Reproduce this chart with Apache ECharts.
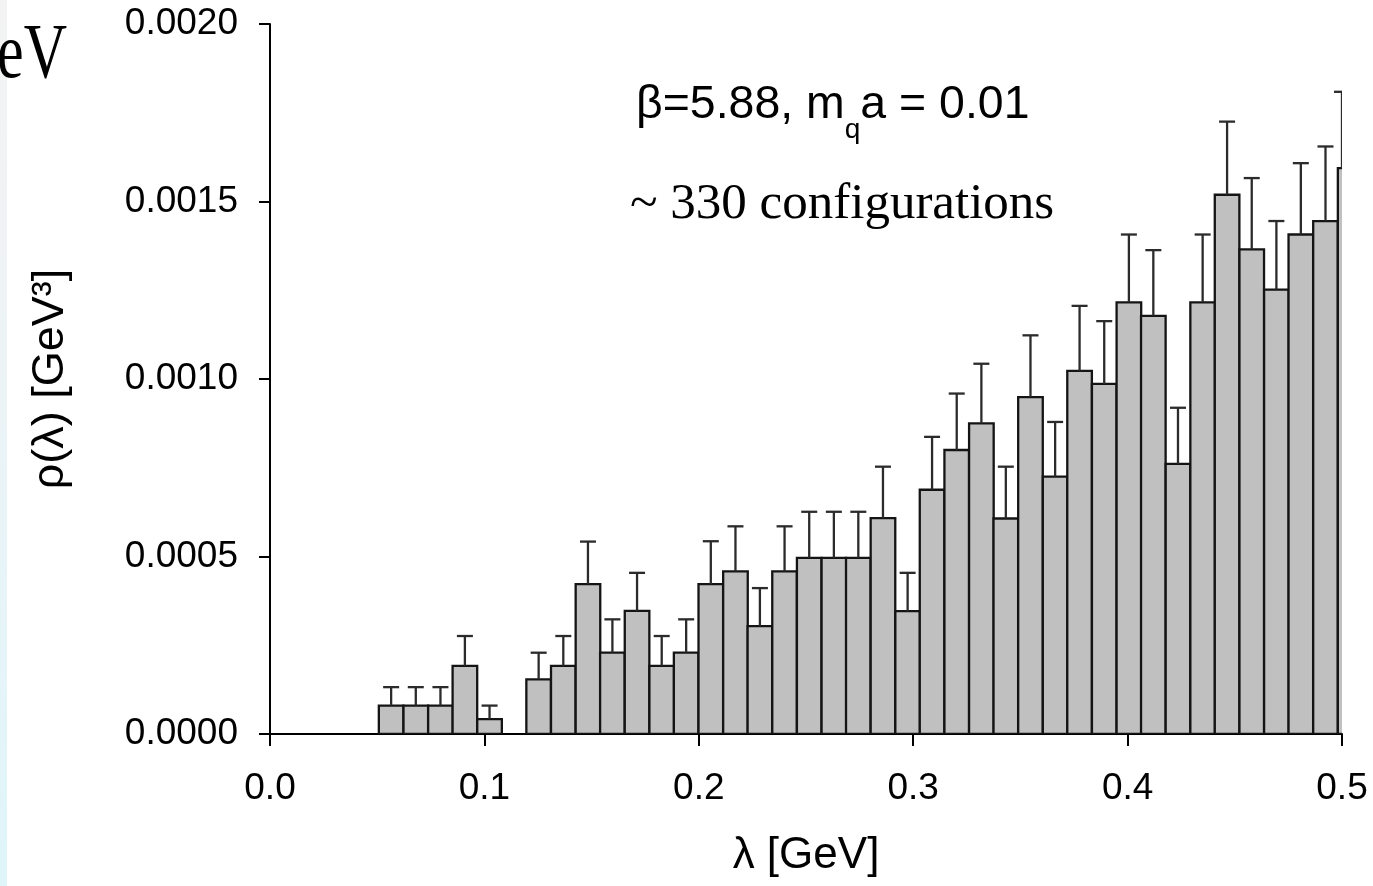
<!DOCTYPE html>
<html>
<head>
<meta charset="utf-8">
<script src="https://cdn.jsdelivr.net/npm/echarts@6/dist/echarts.min.js"></script>
<style>
  html, body { margin: 0; padding: 0; background: #ffffff; }
  #chart { width: 1373px; height: 886px; }
</style>
</head>
<body>
<div id="chart"></div>
<script>
// ---- data ----
// histogram bin centres, lambda [GeV]
const lambdaCenters = [0.0565,0.0680,0.0795,0.0909,0.1024,0.1139,0.1253,0.1368,0.1483,0.1597,
  0.1712,0.1827,0.1941,0.2056,0.2171,0.2285,0.2400,0.2515,0.2630,0.2744,
  0.2859,0.2974,0.3088,0.3203,0.3318,0.3432,0.3547,0.3662,0.3776,0.3891,
  0.4006,0.4120,0.4235,0.4350,0.4464,0.4579,0.4694,0.4808,0.4923,0.5038];
// histogram bin width [GeV]
const binWidth = 0.01147;
// rho(lambda) [GeV^3]
const rhoValues = [0.000080,0.000080,0.000080,0.000192,0.000042,null,0.000154,0.000192,0.000422,0.000229,
  0.000347,0.000192,0.000229,0.000422,0.000458,0.000304,0.000458,0.000496,0.000496,0.000496,
  0.000608,0.000346,0.000688,0.000800,0.000875,0.000607,0.000949,0.000725,0.001023,0.000986,
  0.001216,0.001178,0.000761,0.001216,0.001519,0.001365,0.001252,0.001407,0.001445,0.001594];
// upper error bars
const rhoErrors = [0.000052,0.000052,0.000052,0.000084,0.000038,null,0.000075,0.000084,0.000120,0.000094,
  0.000107,0.000084,0.000094,0.000121,0.000127,0.000107,0.000127,0.000130,0.000130,0.000130,
  0.000145,0.000108,0.000149,0.000159,0.000168,0.000146,0.000174,0.000154,0.000183,0.000177,
  0.000191,0.000185,0.000158,0.000191,0.000206,0.000201,0.000193,0.000201,0.000210,0.000215];
// tick labels
const xTickLabels = ['0.0','0.1','0.2','0.3','0.4','0.5'];
const yTickLabels = ['0.0000','0.0005','0.0010','0.0015','0.0020'];
const xAxisTitle = 'λ [GeV]';
const yAxisTitle = 'ρ(λ) [GeV³]';

// ---- build ----
const X_MIN = 0, X_MAX = 0.5, X_STEP = 0.1;
const Y_MIN = 0, Y_MAX = 0.002, Y_STEP = 0.0005;

const barData = [];
const errData = [];
for (let i = 0; i < lambdaCenters.length; i++) {
  if (rhoValues[i] == null) continue;
  barData.push([lambdaCenters[i], rhoValues[i]]);
  errData.push([lambdaCenters[i], rhoValues[i], rhoValues[i] + rhoErrors[i]]);
}

const SANS = '"Liberation Sans", Arial, sans-serif';
const SERIF = '"Liberation Serif", "Times New Roman", serif';

const chart = echarts.init(document.getElementById('chart'), null, { renderer: 'canvas' });

const option = {
  backgroundColor: '#ffffff',
  animation: false,
  grid: { left: 270, right: 31, top: 24, bottom: 152, containLabel: false },
  xAxis: {
    type: 'value',
    min: X_MIN, max: X_MAX, interval: X_STEP,
    name: xAxisTitle,
    nameLocation: 'middle',
    nameGap: 100,
    nameTextStyle: { fontFamily: SANS, fontSize: 44, color: '#000' },
    axisLine: { onZero: false, lineStyle: { color: '#000', width: 2 } },
    axisTick: { show: true, inside: false, length: 12, lineStyle: { color: '#000', width: 2 } },
    axisLabel: {
      margin: 36,
      fontFamily: SANS, fontSize: 37, color: '#000',
      formatter: (v) => xTickLabels[Math.round((v - X_MIN) / X_STEP)]
    },
    splitLine: { show: false }
  },
  yAxis: {
    type: 'value',
    min: Y_MIN, max: Y_MAX, interval: Y_STEP,
    name: yAxisTitle,
    nameLocation: 'middle',
    nameGap: 197,
    nameTextStyle: { fontFamily: SANS, fontSize: 45, color: '#000' },
    axisLine: { show: true, lineStyle: { color: '#000', width: 2 } },
    axisTick: { show: true, inside: false, length: 11, lineStyle: { color: '#000', width: 2 } },
    axisLabel: {
      margin: 32,
      fontFamily: SANS, fontSize: 37, color: '#000',
      formatter: (v) => yTickLabels[Math.round((v - Y_MIN) / Y_STEP)]
    },
    splitLine: { show: false }
  },
  series: [
    {
      type: 'custom',
      name: 'rho',
      clip: true,
      data: barData,
      renderItem: function (params, api) {
        const c = api.value(0), v = api.value(1);
        const p0 = api.coord([c - binWidth / 2, v]);
        const p1 = api.coord([c + binWidth / 2, 0]);
        return {
          type: 'rect',
          shape: { x: p0[0], y: p0[1], width: p1[0] - p0[0], height: p1[1] - p0[1] },
          style: { fill: '#c0c0c0', stroke: '#141414', lineWidth: 2.3 }
        };
      }
    },
    {
      type: 'custom',
      name: 'err',
      clip: true,
      data: errData,
      z: 3,
      renderItem: function (params, api) {
        const c = Math.min(api.value(0), X_MAX);
        const lo = api.coord([c, api.value(1)]);
        const hi = api.coord([c, api.value(2)]);
        const half = 8;
        return {
          type: 'group',
          children: [
            { type: 'line', shape: { x1: lo[0], y1: lo[1], x2: hi[0], y2: hi[1] },
              style: { stroke: '#2b2b2b', lineWidth: 2.3 } },
            { type: 'line', shape: { x1: hi[0] - half, y1: hi[1], x2: hi[0] + half, y2: hi[1] },
              style: { stroke: '#2b2b2b', lineWidth: 2.3 } }
          ]
        };
      }
    }
  ],
  graphic: [
    {
      type: 'rect', left: 0, top: 0, z: -1,
      shape: { width: 7, height: 886 },
      style: {
        fill: new echarts.graphic.LinearGradient(0, 0, 0, 1, [
          { offset: 0, color: '#f3f3f3' },
          { offset: 0.35, color: '#eef3f5' },
          { offset: 1, color: '#dff5fa' }
        ])
      }
    },
    {
      type: 'text', x: 67, y: 57, scaleY: 1.3,
      style: { text: 'GeV', fontFamily: SERIF, fontSize: 60, fill: '#000', align: 'right', verticalAlign: 'middle' }
    },
    {
      type: 'text', x: 636, y: 83, scaleX: 1.08, scaleY: 1.06,
      style: {
        text: '{b|β=5.88, m}{s|q}{b|a = 0.01}',
        x: 0, y: 0, align: 'left', verticalAlign: 'top',
        rich: {
          b: { fontFamily: SANS, fontSize: 43, lineHeight: 46, verticalAlign: 'top', fill: '#000' },
          s: { fontFamily: SANS, fontSize: 26, lineHeight: 26, verticalAlign: 'top', padding: [32, 0, 0, 0], fill: '#000' }
        }
      }
    },
    {
      type: 'text', x: 630, y: 205,
      style: { text: '~ 330 configurations', fontFamily: SERIF, fontSize: 51, fill: '#000', align: 'left', verticalAlign: 'middle' }
    }
  ]
};

chart.setOption(option);
</script>
</body>
</html>
